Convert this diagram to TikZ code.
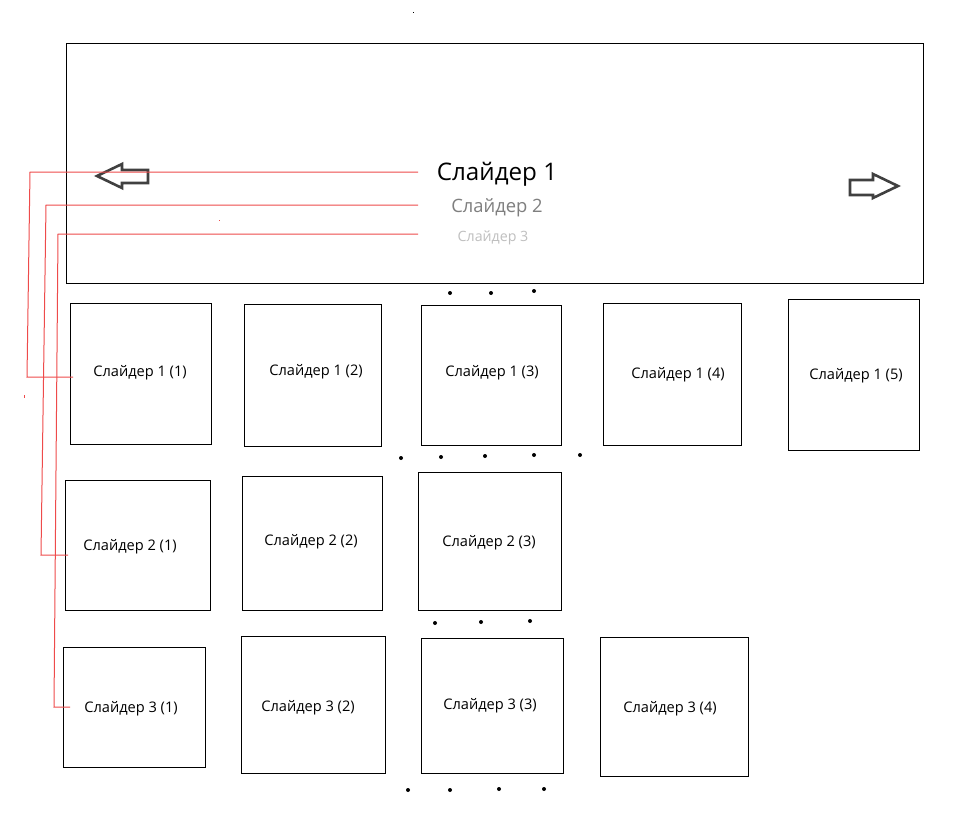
\documentclass[tikz,border=0pt]{standalone}
\usepackage{fontspec}
\setmainfont{Open Sans}
\definecolor{redln}{HTML}{EE4B4B}
\definecolor{arrgray}{HTML}{404040}
\definecolor{tgray}{HTML}{7F7F7F}
\definecolor{tlight}{HTML}{BFBFBF}
\begin{document}
\begin{tikzpicture}[x=1pt,y=-1pt,
  slide/.style={draw=black,line width=1pt,fill=white,anchor=north west,inner sep=0pt},
  lbl/.style={font=\fontsize{14.6}{16}\selectfont,inner sep=0pt,yshift=-2pt},
  redline/.style={draw=redln,line width=1pt},
  blockarrow/.style={draw=arrgray,line width=2.6pt,line join=miter},
  dotmark/.style={fill=black,circle,inner sep=0pt,minimum size=4pt}]
\useasboundingbox (0,0) rectangle (957,821);
% main slider frame
\node[slide,minimum width=857pt,minimum height=240pt] (main) at (66,43) {};
% titles
\node[inner sep=0pt,font=\fontsize{24.2}{26}\selectfont] (t1) at (497,174) {Слайдер 1};
\node[inner sep=0pt,font=\fontsize{18.4}{20}\selectfont,text=tgray] (t2) at (497,208) {Слайдер 2};
\node[inner sep=0pt,font=\fontsize{14.2}{16}\selectfont,text=tlight] (t3) at (493,237.5) {Слайдер 3};
% block arrows
\draw[blockarrow] (97,176) -- (122,164) -- (122,170) -- (148,170) -- (148,183) -- (122,183) -- (122,188) -- cycle;
\draw[blockarrow] (898,186) -- (873,174) -- (873,180) -- (850,180) -- (850,195) -- (873,195) -- (873,198) -- cycle;
% row 1
\node[slide,minimum width=141pt,minimum height=141pt] (b11) at (70,303) {};
\node[slide,minimum width=137pt,minimum height=142pt] (b12) at (244,304) {};
\node[slide,minimum width=140pt,minimum height=140pt] (b13) at (421,305) {};
\node[slide,minimum width=138pt,minimum height=142pt] (b14) at (603,303) {};
\node[slide,minimum width=131pt,minimum height=151pt] (b15) at (788,299) {};
% row 2
\node[slide,minimum width=145pt,minimum height=130pt] (b21) at (65,480) {};
\node[slide,minimum width=140pt,minimum height=134pt] (b22) at (242,476) {};
\node[slide,minimum width=143pt,minimum height=138pt] (b23) at (418,472) {};
% row 3
\node[slide,minimum width=142pt,minimum height=120pt] (b31) at (63,647) {};
\node[slide,minimum width=144pt,minimum height=137pt] (b32) at (241,636) {};
\node[slide,minimum width=142pt,minimum height=135pt] (b33) at (421,638) {};
\node[slide,minimum width=148pt,minimum height=139pt] (b34) at (600,637) {};
% labels
\node[lbl] (l11) at (140,371) {Слайдер 1 (1)};
\node[lbl] (l12) at (316,370) {Слайдер 1 (2)};
\node[lbl] (l13) at (492,371) {Слайдер 1 (3)};
\node[lbl] (l14) at (678,373) {Слайдер 1 (4)};
\node[lbl] (l15) at (856,374) {Слайдер 1 (5)};
\node[lbl] (l21) at (130,545) {Слайдер 2 (1)};
\node[lbl] (l22) at (311,540) {Слайдер 2 (2)};
\node[lbl] (l23) at (489,541) {Слайдер 2 (3)};
\node[lbl] (l31) at (131,707) {Слайдер 3 (1)};
\node[lbl] (l32) at (308,706) {Слайдер 3 (2)};
\node[lbl] (l33) at (490,704) {Слайдер 3 (3)};
\node[lbl] (l34) at (670,707) {Слайдер 3 (4)};
% red connectors
\coordinate (r1) at (418,172);
\coordinate (r2) at (418,205);
\coordinate (r3) at (418,234);
\coordinate (e1) at (73,377);
\coordinate (e2) at (68,555);
\coordinate (e3) at (70,707);
\draw[redline] (r1) -- (30,172) -- (27,377) -- (e1);
\draw[redline] (r2) -- (46,205) -- (41,555) -- (e2);
\draw[redline] (r3) -- (58,234) -- (54,707) -- (e3);
\fill[redln] (23.5,395) rectangle (24.5,398);
\fill[redln] (218.5,220) rectangle (219.5,221);
% dots
\fill (412.5,12.5) rectangle (413.5,13.5);
\foreach \p [count=\i] in {(450,293),(491,293),(534,291),
  (401,458),(441,457),(485,456),(534,455),(580,455),
  (435,623),(481,622),(530,621),
  (408,790),(450,790),(499,789),(544,789)}
  \node[dotmark] (d\i) at \p {};
\end{tikzpicture}
\end{document}
